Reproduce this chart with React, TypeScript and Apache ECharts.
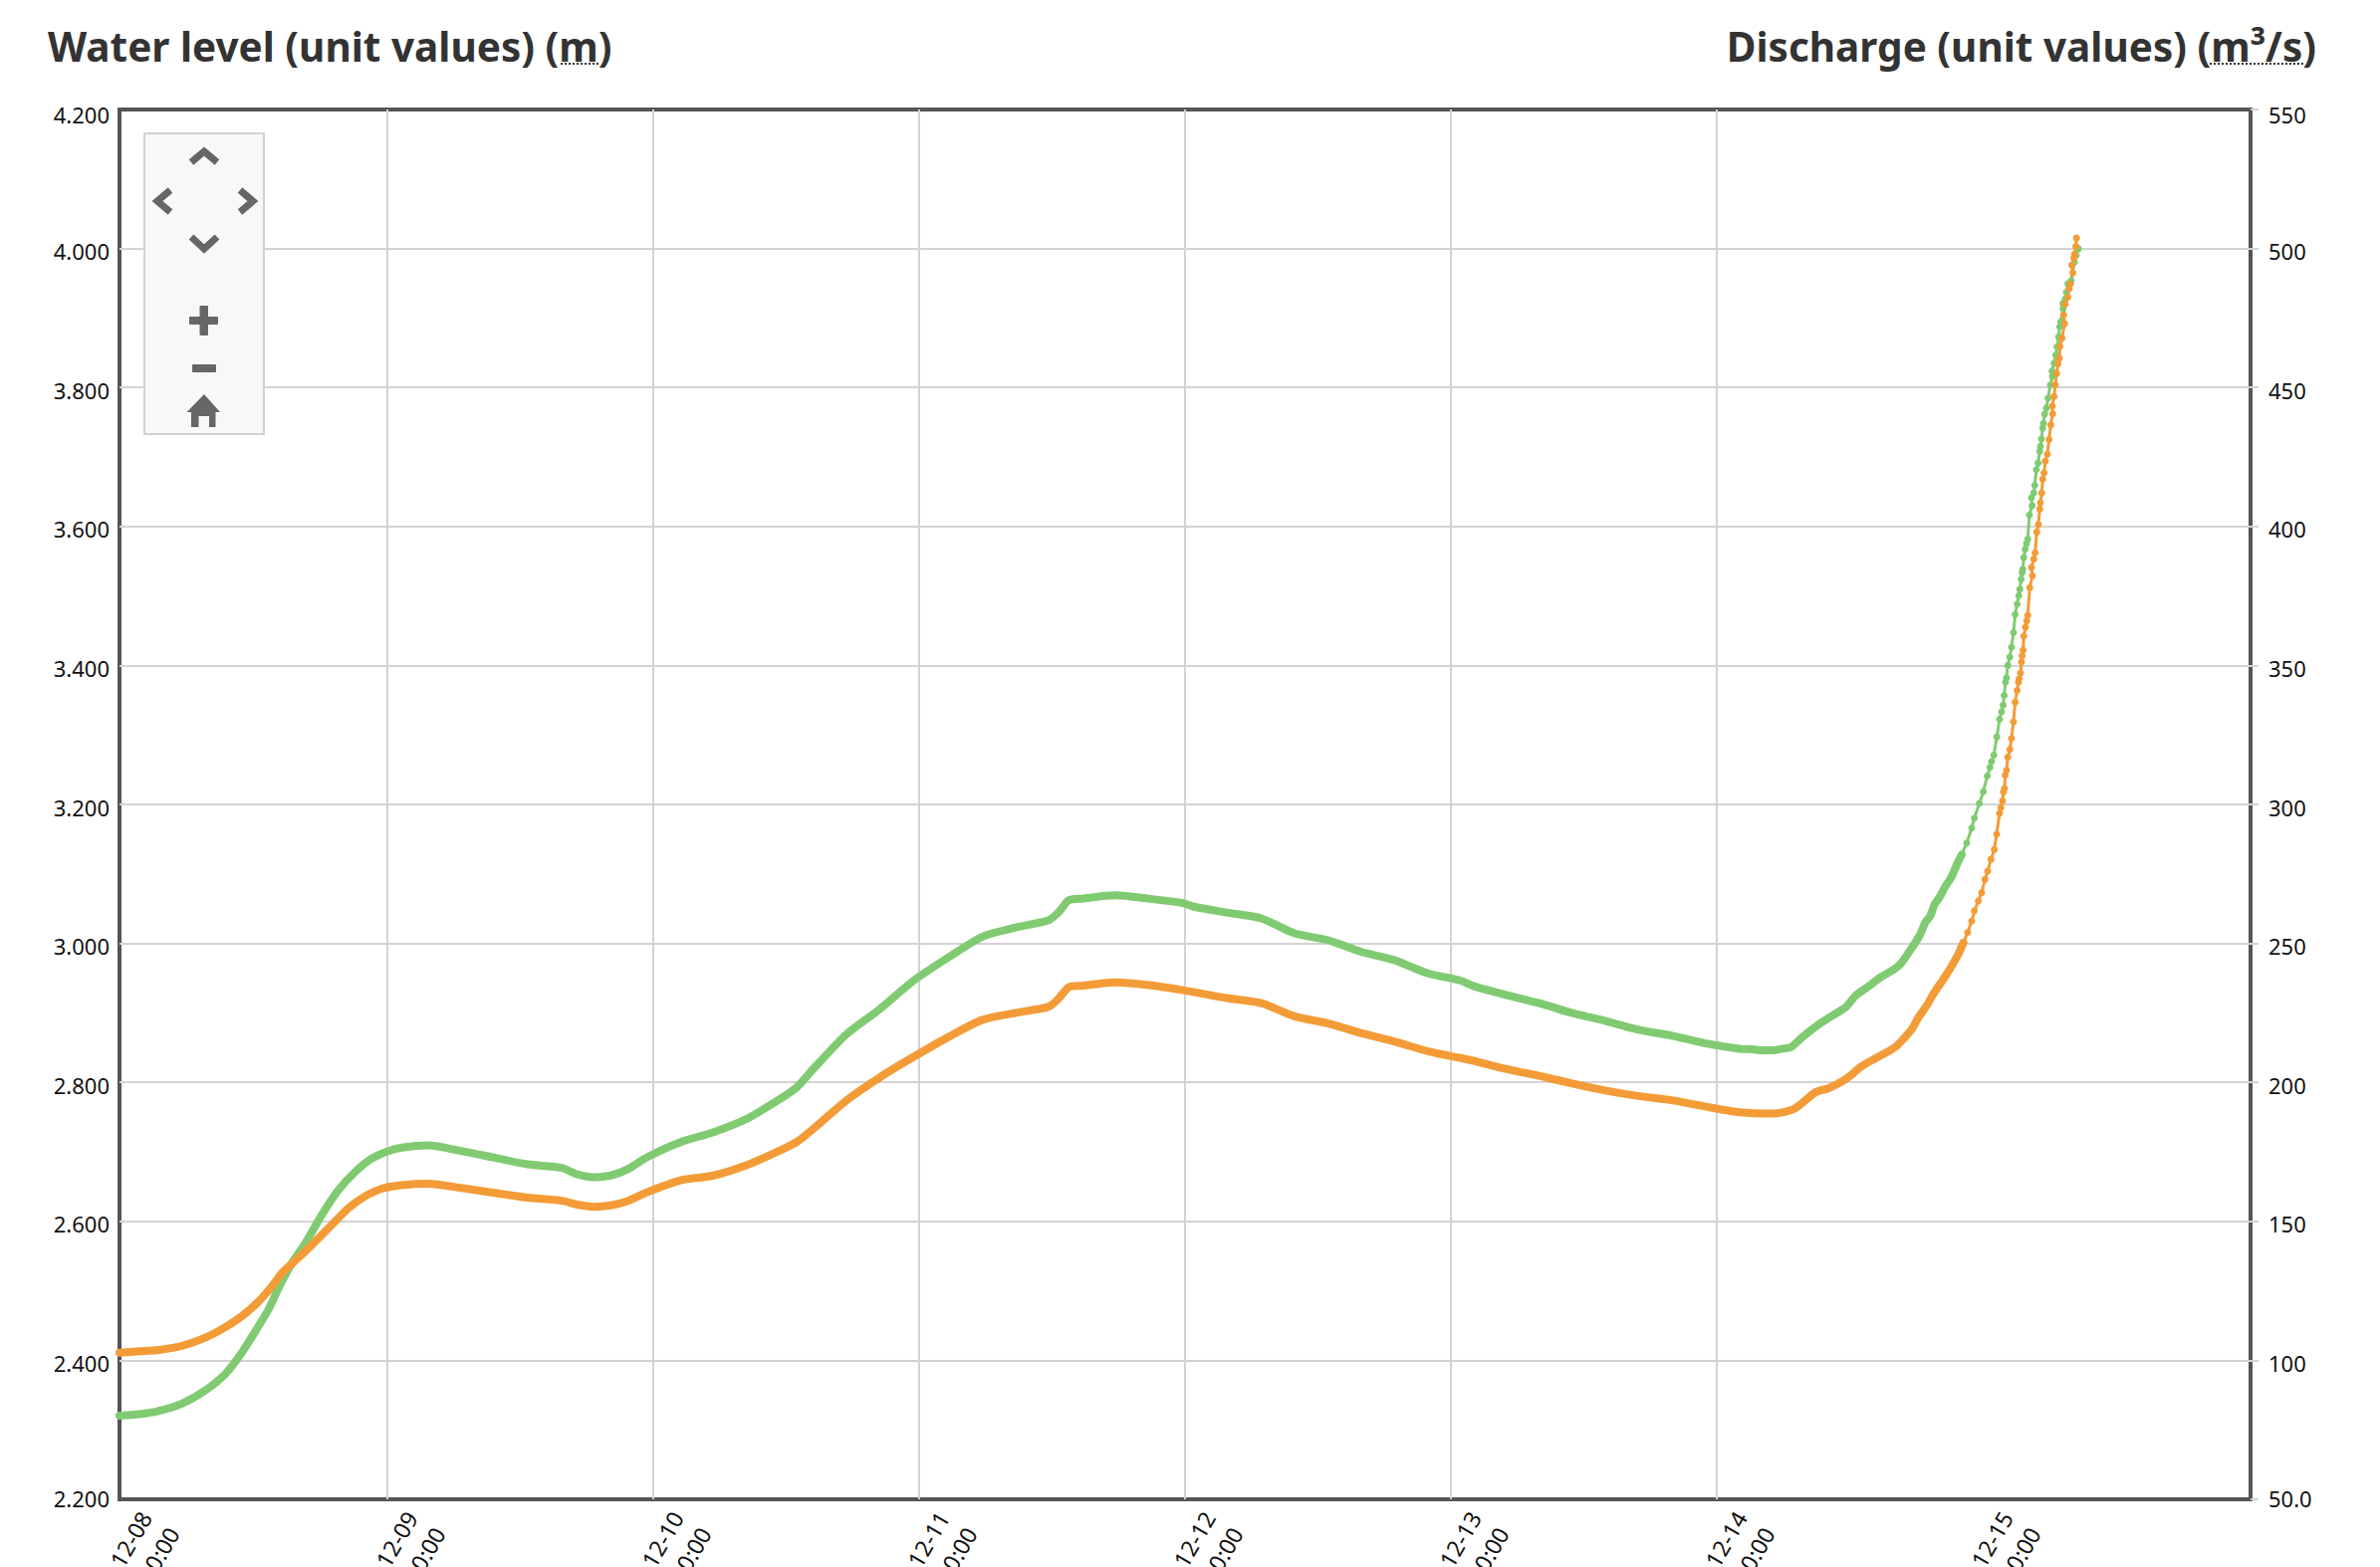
import React, { useEffect, useRef } from "react";
import * as echarts from "echarts";

const leftTitle = "Water level (unit values) (m)";
const rightTitle = "Discharge (unit values) (m³/s)";
const dayLabels = ["12-08", "12-09", "12-10", "12-11", "12-12", "12-13", "12-14", "12-15"];
const dayHours = [0, 24, 48, 72, 96, 120, 144, 168];

// hours since 12-08 00:00
const levelHours = [
  -0.18, 1.62, 3.41, 5.51, 7.61, 9.4, 10.9, 12.4, 13.6, 14.5, 16, 17.49, 18.99, 20.49, 21.99, 23.49,
  25.29, 27.68, 30.68, 33.68, 36.67, 39.67, 41.17, 42.66, 44.16, 45.66, 47.46, 50.46, 53.45, 56.45,
  59.44, 60.94, 62.44, 65.44, 68.43, 71.43, 74.73, 77.72, 80.72, 83.71, 84.61, 85.51, 86.71, 89.71,
  92.7, 95.7, 99.9, 102.89, 105.89, 108.88, 111.88, 114.88, 117.87, 120.87, 122.07, 125.07, 128.06,
  131.06, 134.05, 137.05, 140.05, 143.04, 146.04, 149.03, 151, 152.93, 153.98, 155.03, 155.93, 156.98,
  158.03, 159.07, 160.12, 160.87, 161.62, 162.22, 162.97, 163.66, 164.47, 165.22, 165.82, 166.26,
  166.65, 167.01, 167.25, 167.61, 167.91, 168.21, 168.45, 168.75, 169.05, 169.26, 169.52, 169.64,
  169.79, 169.88, 169.97, 170.03, 170.15, 170.27, 170.45, 170.6, 170.78, 170.93, 171.11, 171.23,
  171.29, 171.41, 171.5, 171.56, 171.65, 171.71, 171.86, 171.98, 172.07, 172.25, 172.49, 172.4,
  172.61, 172.73, 172.88, 173.03, 173.15, 173.21, 173.33, 173.42, 173.54, 173.66, 173.84, 173.99,
  174.14, 174.32, 174.29, 174.44, 174.56, 174.68, 174.8, 174.92, 174.98, 175.16, 175.4, 175.31,
  175.45, 175.69, 175.81, 175.93, 176.14, 176.05, 176.23, 176.29, 176.41, 176.47,
];
const levelValues = [
  2.411, 2.413, 2.415, 2.421, 2.433, 2.448, 2.464, 2.485, 2.507, 2.526, 2.548, 2.571, 2.595, 2.619, 2.636, 2.647,
  2.652, 2.654, 2.648, 2.641, 2.634, 2.63, 2.624, 2.621, 2.623, 2.629, 2.642, 2.659, 2.666, 2.681,
  2.702, 2.714, 2.733, 2.774, 2.807, 2.836, 2.866, 2.89, 2.9, 2.909, 2.921, 2.937, 2.939, 2.944,
  2.94, 2.933, 2.921, 2.914, 2.895, 2.885, 2.871, 2.859, 2.845, 2.835, 2.831, 2.819, 2.809,
  2.798, 2.788, 2.78, 2.774, 2.765, 2.757, 2.755, 2.762, 2.786, 2.791, 2.799, 2.808, 2.822,
  2.832, 2.841, 2.851, 2.863, 2.877, 2.894, 2.911, 2.93, 2.949, 2.968, 2.985, 3.001,
  3.016, 3.032, 3.047, 3.061, 3.073, 3.092, 3.104, 3.121, 3.135, 3.157, 3.187, 3.195,
  3.205, 3.218, 3.223, 3.242, 3.249, 3.268, 3.279, 3.295, 3.319, 3.347, 3.364, 3.376,
  3.381, 3.389, 3.405, 3.414, 3.422, 3.442, 3.455, 3.464, 3.472, 3.512, 3.529, 3.541,
  3.553, 3.562, 3.592, 3.603, 3.625, 3.634, 3.648, 3.668, 3.677, 3.694, 3.704, 3.725,
  3.746, 3.762, 3.773, 3.787, 3.804, 3.82, 3.834, 3.842, 3.859, 3.871, 3.892, 3.904,
  3.92, 3.93, 3.942, 3.949, 3.965, 3.976, 3.986, 3.992, 4.003, 4.015,
];

const flowHours = [
  -0.18, 1.62, 3.41, 5.51, 7.61, 9.4, 10.9, 12.4, 13.3, 14.2, 15.4, 16.6, 18.09, 19.59, 21.09, 22.59, 24.08,
  25.29, 27.68, 30.68, 33.68, 36.67, 39.67, 41.17, 42.66, 44.16, 45.66, 47.46, 50.46, 53.45, 56.45,
  59.44, 60.94, 62.44, 65.44, 68.43, 71.43, 74.73, 77.72, 80.72, 83.71, 84.61, 85.51, 86.71, 89.71,
  92.7, 95.7, 96.9, 99.9, 102.89, 105.89, 108.88, 111.88, 114.88, 117.87, 120.87, 122.07, 125.07, 128.06,
  131.06, 134.05, 137.05, 140.05, 143.04, 146.04, 147.24, 148.14, 149.04, 149.94, 150.69, 151.73, 153.08,
  154.43, 155.63, 156.53, 157.58, 158.78, 159.82, 160.57, 161.32, 161.92, 162.37, 162.82, 163.27, 163.66,
  164.17, 164.56, 165.22, 165.67, 166.11, 166.56, 167.01, 167.25, 167.7, 168.06, 168.41, 168.65, 168.8,
  169.01, 169.28, 169.52, 169.7, 169.85, 169.94, 170.06, 170.15, 170.27, 170.45, 170.6, 170.78, 170.93,
  171.11, 171.26, 171.35, 171.47, 171.56, 171.62, 171.71, 171.83, 171.95, 172.07, 172.22, 172.46, 172.4,
  172.61, 172.7, 172.85, 173, 173.15, 173.21, 173.3, 173.42, 173.48, 173.6, 173.75, 173.9, 174.11,
  174.29, 174.26, 174.44, 174.59, 174.71, 174.86, 174.95, 175.04, 175.25, 175.25, 175.46, 175.55, 175.69,
  175.99, 176.29, 176.44, 176.65,
];
const flowValues = [
  80.1, 80.6, 81.8, 84.5, 89.3, 95.2, 103, 112.5, 118.5, 126.2, 135.1, 142.2, 152.4, 161.3, 167.8, 172.6, 175.3,
  176.5, 177.3, 175.3, 172.9, 170.5, 169.3, 166.9, 165.9, 166.5, 168.7, 173.1, 178.5, 182.1, 186.9,
  194, 198.2, 204.8, 217.3, 226.3, 236.4, 245.2, 252.4, 255.7, 258.4, 261.3, 265.5, 266.1, 267.3,
  266.1, 264.6, 263.1, 261, 259, 253.6, 251.2, 247, 244, 239.3, 236.6, 234.6, 231.4, 228.4,
  224.8, 222, 218.8, 216.7, 214, 212.1, 211.9, 211.5, 211.5, 212.1, 212.7, 216.3, 220.5,
  224, 227, 231.2, 234.2, 237.8, 240.2, 242.5, 246.7, 250.3, 253.3, 257.5, 259.9, 264,
  267, 270, 274.2, 278.4, 281.9, 286.1, 291.5, 295.1, 300.4, 304.6, 310.2, 313.3, 315.4,
  317.7, 324.3, 330.6, 333.3, 335.7, 339.2, 344, 345.6, 350, 353, 356.5, 361.8, 368.3,
  372.1, 375.1, 377.4, 381, 383.4, 384.6, 388.8, 391.8, 393.8, 395.4, 404.1, 407.5, 410.3,
  412.1, 414.8, 420.4, 422.8, 427, 428.8, 431.5, 435.4, 437.1, 440.4, 442.5, 446.1, 450.9,
  453.9, 455.9, 458.7, 461.6, 464.6, 468.2, 471.8, 473.6, 478.4, 480.2, 481.9, 484.3, 487.3,
  488.5, 495.1, 497.5, 499.9,
];

const FONT = "Noto Sans";
const GREEN = "#80cb72";
const ORANGE = "#f39c37";
const GRID = "#d3d3d3";
const ICON = "#666666";
const SPLIT_HOUR = 166;
const PX_PER_HOUR = 267 / 24;
const AXIS_MIN = -0.18;
const AXIS_MAX = AXIS_MIN + 2140 / PX_PER_HOUR;
const LABEL_SHIFT = 38 / PX_PER_HOUR;

const pairs = (xs: number[], ys: number[]) => xs.map((x, i) => [x, ys[i]]);
const solid = (p: number[][]) => {
  const n = p.findIndex((d) => d[0] > SPLIT_HOUR);
  return p.slice(0, n + 1);
};
const dotted = (p: number[][]) => {
  const n = p.findIndex((d) => d[0] > SPLIT_HOUR);
  return p.slice(n);
};

const curve = (name: string, color: string, data: number[][], yAxisIndex: number, thick: boolean) => ({
  type: "line",
  name,
  yAxisIndex,
  data,
  color,
  showSymbol: !thick,
  showAllSymbol: true,
  symbol: "circle",
  symbolSize: 7,
  smooth: thick ? 0.25 : false,
  clip: false,
  itemStyle: { color },
  lineStyle: { color, width: thick ? 8 : 3, cap: "round", join: "round" },
  emphasis: { disabled: true },
});

const chevron = (points: number[][]) => ({
  type: "polyline",
  z: 20,
  shape: { points },
  style: { stroke: ICON, lineWidth: 7, fill: "none" },
});
const block = (x: number, y: number, width: number, height: number, fill = ICON) => ({
  type: "rect",
  z: 20,
  shape: { x, y, width, height, r: 1 },
  style: { fill },
});

const tickStyle = { fontFamily: FONT, fontSize: 22, color: "#111111" };
const tickRich = {
  top: { ...tickStyle, padding: [10, 0, 0, 0] },
  mid: { ...tickStyle, padding: [5, 0, 0, 0] },
  low: { ...tickStyle, padding: [0, 0, 2, 0] },
};
const tag = (text: string, v: number, lo: number, hi: number) =>
  `{${v === hi ? "top" : v === lo ? "low" : "mid"}|${text}}`;

export default function App() {
  const ref = useRef<HTMLDivElement>(null);
  useEffect(() => {
    const chart = echarts.init(ref.current!, undefined, { renderer: "svg" });
    const level = pairs(levelHours, levelValues);
    const flow = pairs(flowHours, flowValues);
    chart.setOption({
      animation: false,
      backgroundColor: "#ffffff",
      textStyle: { fontFamily: FONT },
      grid: {
        show: true,
        left: 120,
        right: 130,
        top: 110,
        bottom: 68,
        outerBoundsMode: "none",
        containLabel: false,
        borderColor: "#555555",
        borderWidth: 4,
        backgroundColor: "transparent",
      },
      xAxis: [
        {
          type: "value",
          min: AXIS_MIN,
          max: AXIS_MAX,
          axisLine: { show: false, onZero: false },
          axisTick: { show: false, customValues: dayHours },
          axisLabel: { show: false },
          minorTick: { show: false },
          splitLine: { show: true, showMinLine: false, showMaxLine: false, lineStyle: { color: GRID, width: 2 } },
        },
        {
          type: "value",
          position: "bottom",
          min: AXIS_MIN - LABEL_SHIFT,
          max: AXIS_MAX - LABEL_SHIFT,
          axisLine: { show: false, onZero: false },
          axisTick: { show: false },
          minorTick: { show: false },
          splitLine: { show: false },
          axisLabel: {
            show: true,
            customValues: dayHours,
            rotate: 60,
            align: "right",
            verticalAlign: "middle",
            margin: 22,
            fontFamily: FONT,
            fontSize: 23,
            lineHeight: 32,
            color: "#111111",
            hideOverlap: false,
            showMinLabel: true,
            showMaxLabel: true,
            formatter: (v: number) => `${dayLabels[dayHours.indexOf(v)]}\n00:00`,
          },
        },
      ],
      yAxis: [
        {
          type: "value",
          min: 2.2,
          max: 4.2,
          interval: 0.2,
          axisLine: { show: false, onZero: false },
          axisTick: { show: false },
          splitLine: { show: true, showMinLine: false, showMaxLine: false, lineStyle: { color: GRID, width: 2 } },
          axisLabel: {
            margin: 10,
            rich: tickRich,
            formatter: (v: number) => tag(v.toFixed(3), Math.round(v * 10) / 10, 2.2, 4.2),
          },
        },
        {
          type: "value",
          position: "right",
          min: 50,
          max: 550,
          interval: 50,
          axisLine: { show: false, onZero: false },
          axisTick: { show: true, length: 8, lineStyle: { color: GRID, width: 2 } },
          splitLine: { show: false },
          axisLabel: {
            margin: 18,
            rich: tickRich,
            formatter: (v: number) => tag(v === 50 ? "50.0" : String(v), v, 50, 550),
          },
        },
      ],
      series: [
        curve("Discharge", GREEN, solid(flow), 1, true),
        curve("Discharge", GREEN, dotted(flow), 1, false),
        curve("Water level", ORANGE, solid(level), 0, true),
        curve("Water level", ORANGE, dotted(level), 0, false),
      ],
      graphic: [
        {
          type: "text",
          x: 48,
          y: 46,
          style: { text: leftTitle, fontFamily: FONT, fontWeight: 700, fontSize: 40.5, fill: "#333333", align: "left", verticalAlign: "middle" },
        },
        {
          type: "text",
          x: 2326,
          y: 46,
          style: { text: rightTitle, fontFamily: FONT, fontWeight: 700, fontSize: 40.5, fill: "#333333", align: "right", verticalAlign: "middle" },
        },
        { type: "line", shape: { x1: 563, y1: 64, x2: 603, y2: 64 }, style: { stroke: "#333333", lineWidth: 2, lineDash: [2, 2] } },
        { type: "line", shape: { x1: 2219, y1: 64, x2: 2313, y2: 64 }, style: { stroke: "#333333", lineWidth: 2, lineDash: [2, 2] } },
        {
          type: "rect",
          z: 19,
          shape: { x: 145, y: 134, width: 120, height: 302 },
          style: { fill: "#f8f8f8", stroke: "#d2d2d2", lineWidth: 2 },
        },
        chevron([[192, 163], [205, 152], [218, 163]]),
        chevron([[171, 191], [158, 202], [171, 213]]),
        chevron([[241, 191], [254, 202], [241, 213]]),
        chevron([[192, 238], [205, 250], [218, 238]]),
        block(190, 318, 29, 8),
        block(200.5, 307, 8.5, 30),
        block(193, 366, 24, 8),
        {
          type: "polygon",
          z: 20,
          shape: { points: [[205, 396], [221, 414], [216.5, 414], [216.5, 429], [210, 429], [210, 418], [199.5, 418], [199.5, 429], [192, 429], [192, 414], [187.5, 414]] },
          style: { fill: ICON },
        },
      ],
    });
    return () => chart.dispose();
  }, []);
  return <div ref={ref} style={{ position: "fixed", left: 0, top: 0, width: 2390, height: 1574 }} />;
}
